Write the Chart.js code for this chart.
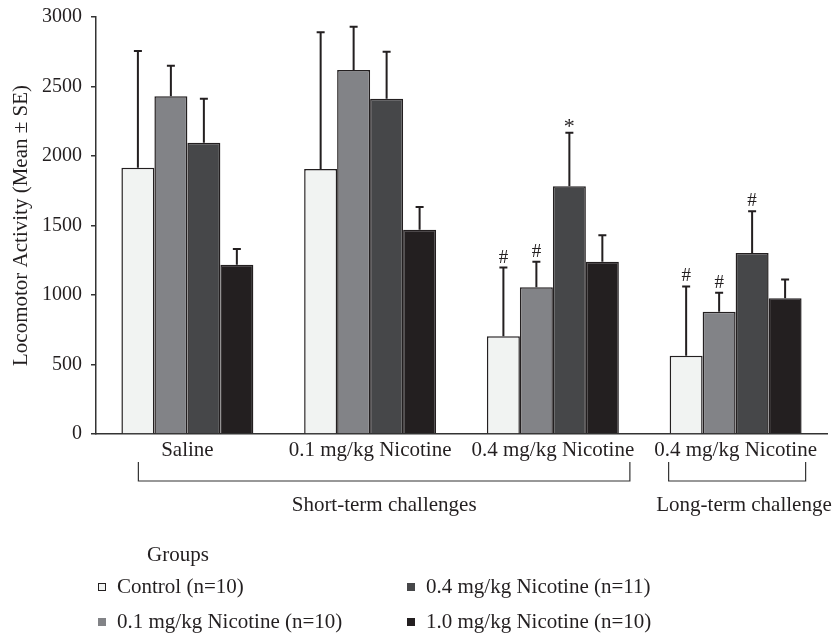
<!DOCTYPE html>
<html>
<head>
<meta charset="utf-8">
<script src="https://cdn.jsdelivr.net/npm/chart.js@4.4.1/dist/chart.umd.min.js"></script>
<style>
  html, body { margin: 0; padding: 0; background: #fff; }
  #wrap { width: 836px; height: 635px; }
</style>
</head>
<body>
<div id="wrap"><canvas id="myChart" width="836" height="635"></canvas></div>
<script>
// categories along the x axis
const categories = ["Saline", "0.1 mg/kg Nicotine", "0.4 mg/kg Nicotine", "0.4 mg/kg Nicotine"];

// groups (legend)
const groupNames = ["Control (n=10)", "0.1 mg/kg Nicotine (n=10)", "0.4 mg/kg Nicotine (n=11)", "1.0 mg/kg Nicotine (n=10)"];
const groupColors = ["#f1f3f2", "#828387", "#464749", "#231f20"];

// means
const controlMean = [1916, 1906, 703, 563];
const nic01Mean = [2429, 2619, 1055, 880];
const nic04Mean = [2096, 2412, 1782, 1302];
const nic10Mean = [1218, 1470, 1240, 976];

// standard errors (upper whisker only)
const controlSE = [839, 984, 494, 499];
const nic01SE = [221, 311, 185, 137];
const nic04SE = [316, 338, 386, 300];
const nic10SE = [113, 163, 190, 136];

// significance marks above the whiskers
const controlMarks = ["", "", "#", "#"];
const nic01Marks = ["", "", "#", "#"];
const nic04Marks = ["", "", "*", "#"];
const nic10Marks = ["", "", "", ""];

const yTicks = [0, 500, 1000, 1500, 2000, 2500, 3000];

const means = [controlMean, nic01Mean, nic04Mean, nic10Mean];
const ses = [controlSE, nic01SE, nic04SE, nic10SE];
const marks = [controlMarks, nic01Marks, nic04Marks, nic10Marks];

const ink = "#231f20";
Chart.defaults.font.family = "'Liberation Serif', 'DejaVu Serif', serif";
Chart.defaults.color = ink;

// whiskers and the # / * marks
const errorBars = {
  id: "errorBars",
  afterDatasetsDraw(chart) {
    const ctx = chart.ctx;
    const y = chart.scales.y;
    ctx.save();
    ctx.strokeStyle = ink;
    ctx.fillStyle = ink;
    ctx.lineWidth = 2;
    chart.data.datasets.forEach((ds, i) => {
      chart.getDatasetMeta(i).data.forEach((bar, j) => {
        const top = y.getPixelForValue(means[i][j] + ses[i][j]);
        const base = y.getPixelForValue(means[i][j]);
        ctx.beginPath();
        ctx.moveTo(bar.x, base);
        ctx.lineTo(bar.x, top);
        ctx.moveTo(bar.x - 4, top);
        ctx.lineTo(bar.x + 4, top);
        ctx.stroke();
        if (marks[i][j]) {
          const star = marks[i][j] == "*";
          ctx.font = (star ? "22px" : "19px") + " 'Liberation Serif'";
          ctx.textAlign = "center";
          ctx.textBaseline = "alphabetic";
          ctx.fillText(marks[i][j], bar.x, top - (star ? 0 : 5));
        }
      });
    });
    ctx.restore();
  },
};

// brackets under the categories + the legend block
const extras = {
  id: "extras",
  afterDraw(chart) {
    const ctx = chart.ctx;
    const x = chart.scales.x;
    const c0 = x.getPixelForValue(0);
    const c2 = x.getPixelForValue(2);
    const c3 = x.getPixelForValue(3);
    ctx.save();
    ctx.strokeStyle = "#333";
    ctx.lineWidth = 1.2;
    function bracket(l, r) {
      ctx.beginPath();
      ctx.moveTo(l, 462);
      ctx.lineTo(l, 481);
      ctx.lineTo(r, 481);
      ctx.lineTo(r, 462);
      ctx.stroke();
    }
    const sl = c0 - 49, sr = c2 + 77;
    const ll = c3 - 67, lr = c3 + 70;
    bracket(sl, sr);
    bracket(ll, lr);

    ctx.fillStyle = ink;
    ctx.font = "21px 'Liberation Serif'";
    ctx.textBaseline = "middle";
    ctx.textAlign = "center";
    ctx.fillText("Short-term challenges", (sl + sr) / 2, 505);
    ctx.fillText("Long-term challenge", 744, 505);

    ctx.textAlign = "left";
    ctx.fillText("Groups", 147, 555);
    const cols = [102, 411];
    const rows = [587, 622];
    groupNames.forEach((name, k) => {
      const cx = cols[Math.floor(k / 2)];
      const cy = rows[k % 2];
      ctx.fillStyle = groupColors[k];
      ctx.fillRect(cx - 4, cy - 4, 8, 8);
      if (k == 0) {
        ctx.strokeStyle = ink;
        ctx.lineWidth = 1;
        ctx.strokeRect(cx - 3.5, cy - 3.5, 7, 7);
      }
      ctx.fillStyle = ink;
      ctx.fillText(name, cx + 15, cy);
    });
    ctx.restore();
  },
};

const ctx = document.getElementById("myChart");
new Chart(ctx, {
  type: "bar",
  data: {
    labels: categories,
    datasets: groupNames.map((name, k) => ({
      label: name,
      data: means[k],
      backgroundColor: groupColors[k],
      borderColor: ink,
      borderWidth: 1.5,
      borderSkipped: "bottom",
      categoryPercentage: 0.722,
      barPercentage: 1.0,
    })),
  },
  options: {
    responsive: false,
    animation: false,
    layout: { padding: { top: 17, right: 9, left: 0, bottom: 0 } },
    plugins: {
      legend: { display: false },
      tooltip: { enabled: false },
    },
    scales: {
      x: {
        grid: { display: false, tickLength: 0 },
        border: { display: true, color: "#333", width: 1.5 },
        ticks: { font: { size: 21 }, padding: 4, maxRotation: 0, autoSkip: false },
        afterFit(scale) { scale.height = 201; },
      },
      y: {
        min: 0,
        max: 3000,
        afterBuildTicks(scale) { scale.ticks = yTicks.map((v) => ({ value: v })); },
        grid: { drawOnChartArea: false, drawTicks: true, tickLength: 5, color: "#333", lineWidth: 1.5 },
        border: { display: true, color: "#333", width: 1.5 },
        ticks: { font: { size: 20 }, padding: 9, callback: (v) => String(v) },
        title: {
          display: true,
          text: "Locomotor Activity (Mean ± SE)",
          font: { size: 21 },
          padding: { top: 9, bottom: 0 },
        },
        afterFit(scale) {
          scale.width = 96;
          scale.paddingTop = 0;
          scale.paddingBottom = 0;
        },
      },
    },
  },
  plugins: [errorBars, extras],
});
</script>
</body>
</html>
